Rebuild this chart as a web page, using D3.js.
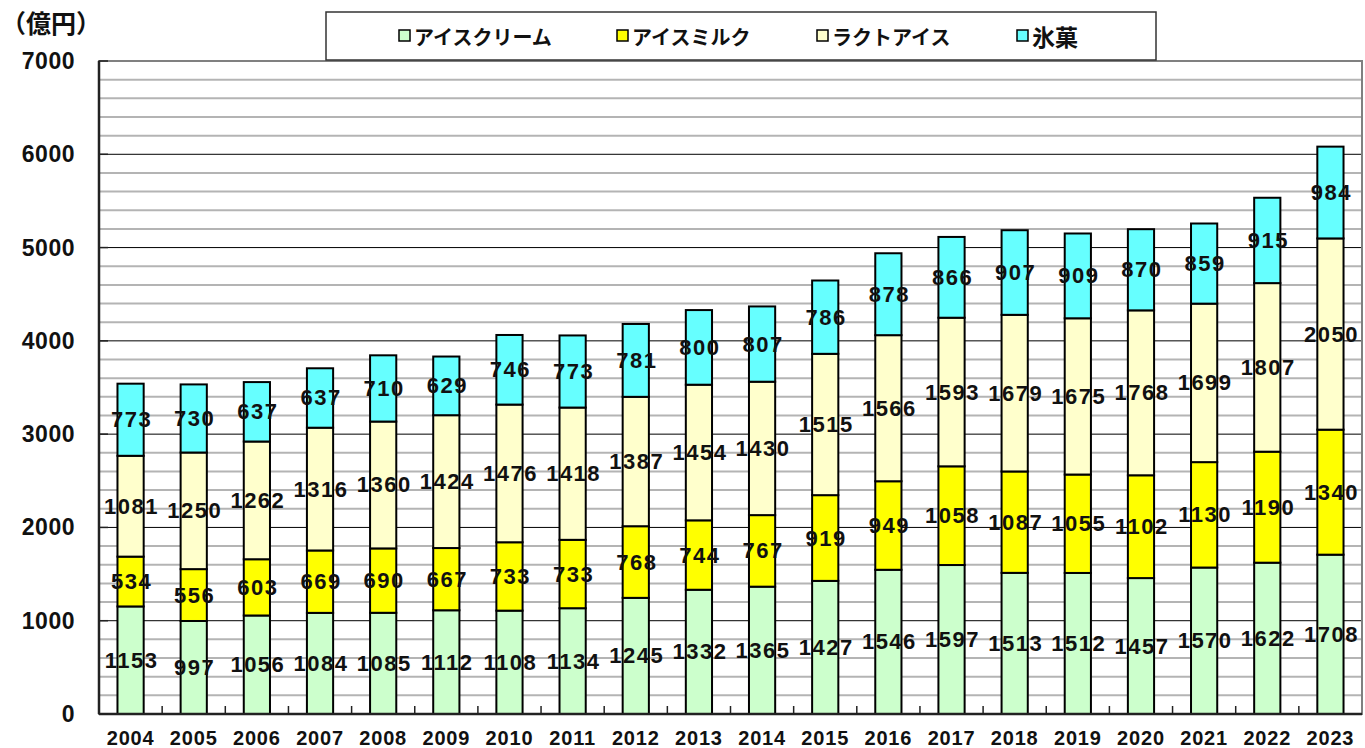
<!DOCTYPE html>
<html><head><meta charset="utf-8">
<script src="https://cdn.jsdelivr.net/npm/d3@7"></script>
<style>body{margin:0;background:#fff;} svg{display:block;}</style>
</head><body>
<svg id="c" width="1365" height="748"></svg>
<script>
const years = ["2004","2005","2006","2007","2008","2009","2010","2011","2012","2013","2014","2015","2016","2017","2018","2019","2020","2021","2022","2023"];
const seriesNames = ["アイスクリーム","アイスミルク","ラクトアイス","氷菓"];
const iceCream = [1153,997,1056,1084,1085,1112,1108,1134,1245,1332,1365,1427,1546,1597,1513,1512,1457,1570,1622,1708];
const iceMilk  = [534,556,603,669,690,667,733,733,768,744,767,919,949,1058,1087,1055,1102,1130,1190,1340];
const lactoIce = [1081,1250,1262,1316,1360,1424,1476,1418,1387,1454,1430,1515,1566,1593,1679,1675,1768,1699,1807,2050];
const hyoka    = [773,730,637,637,710,629,746,773,781,800,807,786,878,866,907,909,870,859,915,984];
const yTicks = [0,1000,2000,3000,4000,5000,6000,7000];
const colors = ["#CCFFCC","#FFFF00","#FFFFCC","#66FFFF"];

const svg = d3.select("#c");
const m = {l:99, r:1362, t:61, b:714};
const x = d3.scaleBand().domain(years).range([m.l, m.r]).paddingInner(0.585).paddingOuter(0.2925);
const xb = d3.scaleBand().domain(years).range([m.l, m.r]);
const y = d3.scaleLinear().domain([0,7000]).range([m.b, m.t]);

// minor grid
const minor = d3.range(200,7000,200).filter(v=>v%1000!==0);
svg.append("g").selectAll("line").data(minor).join("line")
  .attr("x1",m.l).attr("x2",m.r).attr("y1",d=>y(d)).attr("y2",d=>y(d))
  .attr("stroke","#b4b4b4").attr("stroke-width",2);
svg.append("g").selectAll("line").data(yTicks.filter(v=>v>0&&v<7000)).join("line")
  .attr("x1",m.l).attr("x2",m.r).attr("y1",d=>y(d)).attr("y2",d=>y(d))
  .attr("stroke","#000").attr("stroke-width",1);
// plot border
svg.append("rect").attr("x",m.l).attr("y",m.t).attr("width",m.r-m.l).attr("height",m.b-m.t)
  .attr("fill","none").attr("stroke","#808080").attr("stroke-width",2);

// stack
const rows = years.map((yr,i)=>({year:yr, s0:iceCream[i], s1:iceMilk[i], s2:lactoIce[i], s3:hyoka[i]}));
const stack = d3.stack().keys(["s0","s1","s2","s3"])(rows);
const g = svg.append("g");
stack.forEach((layer,k)=>{
  g.append("g").selectAll("rect").data(layer).join("rect")
    .attr("x",d=>x(d.data.year)).attr("width",x.bandwidth())
    .attr("y",d=>y(d[1])).attr("height",d=>y(d[0])-y(d[1]))
    .attr("fill",colors[k]).attr("stroke","#000").attr("stroke-width",2);
});
// labels
stack.forEach((layer,k)=>{
  g.append("g").selectAll("text").data(layer).join("text")
    .attr("x",d=>x(d.data.year)+x.bandwidth()/2+1)
    .attr("y",d=>y((d[0]+d[1])/2))
    .attr("text-anchor","middle").attr("dominant-baseline","central")
    .attr("font-family","'Liberation Sans',Arial,sans-serif").attr("font-weight","bold")
    .attr("font-size",22).attr("letter-spacing","1.5px").attr("fill","#111")
    .text(d=>d.data["s"+k]);
});

// axes lines
svg.append("line").attr("x1",m.l).attr("x2",m.l).attr("y1",m.t).attr("y2",m.b).attr("stroke","#222").attr("stroke-width",2.5);
svg.append("line").attr("x1",m.l).attr("x2",m.r).attr("y1",m.b).attr("y2",m.b).attr("stroke","#222").attr("stroke-width",2.5);
// x ticks (inward) at band boundaries
svg.append("g").selectAll("line").data(years.slice(1)).join("line")
  .attr("x1",d=>xb(d)).attr("x2",d=>xb(d)).attr("y1",m.b).attr("y2",m.b-8)
  .attr("stroke","#222").attr("stroke-width",1.5);
// y ticks (inward)
svg.append("g").selectAll("line").data(yTicks).join("line")
  .attr("x1",m.l).attr("x2",m.l+9).attr("y1",d=>y(d)).attr("y2",d=>y(d))
  .attr("stroke","#222").attr("stroke-width",1.5);

// y labels
svg.append("g").selectAll("text").data(yTicks).join("text")
  .attr("x",75).attr("y",d=>y(d)).attr("text-anchor","end").attr("dominant-baseline","central")
  .attr("font-family","'Liberation Sans',Arial,sans-serif").attr("font-weight","bold").attr("font-size",23)
  .attr("letter-spacing","0.5px").attr("fill","#111").text(d=>d);
// x labels
svg.append("g").selectAll("text").data(years).join("text")
  .attr("x",d=>xb(d)+xb.bandwidth()/2).attr("y",738).attr("text-anchor","middle").attr("dominant-baseline","central")
  .attr("font-family","'Liberation Sans',Arial,sans-serif").attr("font-weight","bold").attr("font-size",20)
  .attr("letter-spacing","0.8px").attr("fill","#111").text(d=>d);

// unit
svg.append("text").attr("x",1).attr("y",22).attr("dominant-baseline","central")
  .attr("font-family","'Noto Sans CJK JP',sans-serif").attr("font-weight","bold").attr("font-size",25)
  .attr("fill","#111").text("（億円）");

// legend
const lg = svg.append("g");
lg.append("rect").attr("x",326).attr("y",12).attr("width",830).attr("height",48)
  .attr("fill","#fff").attr("stroke","#333").attr("stroke-width",1.5);
const lx = [399,617,817,1017];
seriesNames.forEach((n,i)=>{
  lg.append("rect").attr("x",lx[i]).attr("y",30).attr("width",11).attr("height",11)
    .attr("fill",colors[i]).attr("stroke","#000").attr("stroke-width",1.5);
  lg.append("text").attr("x",lx[i]+15).attr("y",36).attr("dominant-baseline","central")
    .attr("font-family","'Noto Sans CJK JP',sans-serif").attr("font-weight","bold")
    .attr("font-size", i===3?23:20).attr("fill","#111").text(n);
});
</script>
</body></html>
